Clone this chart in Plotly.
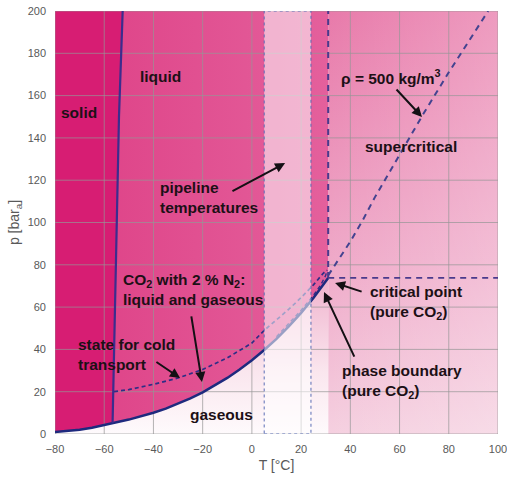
import plotly.graph_objects as go

# ---------------- data ----------------
T_TICKS = [-80, -60, -40, -20, 0, 20, 40, 60, 80, 100]
P_TICKS = [0, 20, 40, 60, 80, 100, 120, 140, 160, 180, 200]

# sublimation curve (pure CO2)
sub_T = [-80, -75, -70, -65, -60, -56.6]
sub_p = [0.9, 1.4, 2.05, 2.95, 4.1, 5.18]

# melting line (pure CO2)
melt_T = [-56.6, -55.6, -55.0, -54.0, -52.5]
melt_p = [5.18, 60, 100, 150, 200]

# vapour pressure curve / phase boundary (pure CO2)
vap_T = [-56.6, -55, -50, -45, -40, -35, -30, -25, -20, -15, -10, -5, 0, 5, 10, 15, 20, 25, 30, 31]
vap_p = [5.18, 5.54, 6.82, 8.32, 10.05, 12.02, 14.28, 16.83, 19.7, 22.9, 26.5, 30.5, 34.85, 39.7,
         45.0, 50.9, 57.3, 64.3, 72.1, 73.8]

# CO2 with 2 % N2: bubble line (state for cold transport) and dew line
bub_T = [-56, -50, -40, -30, -20, -10, 0, 5, 10, 15, 20, 25, 29, 30.5]
bub_p = [20, 21, 23.5, 26.5, 30.5, 36, 43, 49, 54, 59, 64.5, 70.5, 76, 77.5]
dew_T = [10, 15, 20, 25, 28, 30, 30.5]
dew_p = [46, 52, 58.5, 65.5, 70.5, 75, 77.5]

# isochore rho = 500 kg/m3
iso_T = [31, 35, 40, 45, 50, 60, 70, 80, 90, 96]
iso_p = [75, 82, 91, 101, 112, 132, 152, 171, 189, 200]

T_CRIT = 31
P_CRIT = 73.8
T_MIN, T_MAX = -80, 100
P_MAX = 200
PIPE_T = [5, 24]

fig = go.Figure()

# ---------------- region fills ----------------
# supercritical / right region
fig.add_trace(go.Scatter(
    x=[T_CRIT, T_MAX, T_MAX, T_CRIT, T_CRIT], y=[0, 0, P_MAX, P_MAX, 0],
    mode="none", fill="toself",
    fillgradient=dict(type="vertical", colorscale=[[0, "#f5d0e0"], [0.4, "#efaac9"], [1, "#e87aaa"]]),
    hoverinfo="skip"))
fig.add_trace(go.Scatter(
    x=[T_CRIT, T_MAX, T_MAX, T_CRIT, T_CRIT], y=[0, 0, P_MAX, P_MAX, 0],
    mode="none", fill="toself",
    fillgradient=dict(type="horizontal",
                      colorscale=[[0, "rgba(255,255,255,0)"], [1, "rgba(255,255,255,0.25)"]]),
    hoverinfo="skip"))

# gaseous region
gas_x = sub_T + vap_T[1:] + [T_CRIT, T_MIN, T_MIN]
gas_y = sub_p + vap_p[1:] + [0, 0, sub_p[0]]
fig.add_trace(go.Scatter(
    x=gas_x, y=gas_y, mode="none", fill="toself",
    fillgradient=dict(type="vertical", colorscale=[[0, "#fefafc"], [0.4, "#fae6ee"], [1, "#f0b2cd"]]),
    hoverinfo="skip"))

# liquid region
liq_x = melt_T + [T_CRIT] + vap_T[::-1]
liq_y = melt_p + [P_MAX] + vap_p[::-1]
fig.add_trace(go.Scatter(
    x=liq_x, y=liq_y, mode="none", fill="toself",
    fillgradient=dict(type="horizontal", colorscale=[[0, "#df468a"], [1, "#e4609c"]]),
    hoverinfo="skip"))

# solid region
sol_x = sub_T + melt_T[1:] + [T_MIN, T_MIN]
sol_y = sub_p + melt_p[1:] + [P_MAX, sub_p[0]]
fig.add_trace(go.Scatter(
    x=sol_x, y=sol_y, mode="none", fill="toself", fillcolor="#d71d73",
    hoverinfo="skip"))

# ---------------- grid lines (drawn above fills) ----------------
gx, gy = [], []
for t in T_TICKS:
    gx += [t, t, None]
    gy += [0, P_MAX, None]
for p in P_TICKS:
    gx += [T_MIN, T_MAX, None]
    gy += [p, p, None]
fig.add_trace(go.Scatter(x=gx, y=gy, mode="lines",
                         line=dict(color="rgba(150,150,150,0.7)", width=1),
                         hoverinfo="skip"))

# ---------------- curves ----------------
fig.add_trace(go.Scatter(x=sub_T + vap_T[1:], y=sub_p + vap_p[1:], mode="lines",
                         line=dict(color="#1e2a7e", width=2.5), hoverinfo="skip"))
fig.add_trace(go.Scatter(x=melt_T, y=melt_p, mode="lines",
                         line=dict(color="#3b2d8e", width=2.2), hoverinfo="skip"))
fig.add_trace(go.Scatter(x=bub_T, y=bub_p, mode="lines",
                         line=dict(color="#2e2e86", width=1.7, dash="4px,3px"), hoverinfo="skip"))
fig.add_trace(go.Scatter(x=dew_T, y=dew_p, mode="lines",
                         line=dict(color="#2e2e86", width=1.4, dash="4px,3px"), hoverinfo="skip"))
fig.add_trace(go.Scatter(x=iso_T, y=iso_p, mode="lines",
                         line=dict(color="#434390", width=2, dash="6px,5px"), hoverinfo="skip"))
fig.add_trace(go.Scatter(x=[T_CRIT, T_CRIT], y=[P_CRIT, P_MAX], mode="lines",
                         line=dict(color="#4a3a8c", width=2, dash="6px,5px"), hoverinfo="skip"))
fig.add_trace(go.Scatter(x=[T_CRIT, T_MAX], y=[P_CRIT, P_CRIT], mode="lines",
                         line=dict(color="#4a3a8c", width=1.8, dash="6px,5px"), hoverinfo="skip"))

# pipeline temperature band (semi-transparent overlay)
fig.add_shape(type="rect", xref="x", yref="y", x0=PIPE_T[0], x1=PIPE_T[1], y0=0, y1=P_MAX,
              fillcolor="rgba(255,255,255,0.55)", line=dict(color="#5a6db5", width=1, dash="dot"),
              layer="above")

# ---------------- annotations ----------------
TXT = dict(family="Liberation Sans, Arial, sans-serif", size=15.5, color="#1c1016")
labels = [
    ("<b>solid</b>", -70.2, 152.2, "center"),
    ("<b>liquid</b>", -37.3, 168.8, "center"),
    ("<b>ρ = 500 kg/m<sup>3</sup></b>", 56.5, 168.8, "center"),
    ("<b>supercritical</b>", 64.7, 135.7, "center"),
    ("<b>pipeline<br>temperatures</b>", -38.3, 111.6, "left"),
    ("<b>CO<sub>2</sub> with 2 % N<sub>2</sub>:<br>liquid and gaseous</b>", -53.0, 68.1, "left"),
    ("<b>state for cold<br>transport</b>", -71.3, 37.4, "left"),
    ("<b>gaseous</b>", -12.5, 9.0, "center"),
    ("<b>critical point<br>(pure CO<sub>2</sub>)</b>", 47.0, 62.4, "left"),
    ("<b>phase boundary<br>(pure CO<sub>2</sub>)</b>", 36.0, 24.6, "left"),
]
for text, x, y, anc in labels:
    fig.add_annotation(x=x, y=y, xref="x", yref="y", text=text, showarrow=False,
                       xanchor=anc, yanchor="middle", align=anc, font=TXT)

arrows = [  # (tail T, tail p, head T, head p)
    (58.2, 163.6, 69.1, 149.9),
    (-8.5, 114.4, 13.5, 128.1),
    (-24.7, 56.3, -20.3, 24.6),
    (-39.4, 34.5, -29.2, 26.5),
    (45.2, 67.1, 33.8, 71.4),
    (41.9, 35.9, 29.3, 67.1),
]
for tx, ty, hx, hy in arrows:
    fig.add_annotation(x=hx, y=hy, ax=tx, ay=ty, xref="x", yref="y", axref="x", ayref="y",
                       text="", showarrow=True, arrowhead=2, arrowsize=1, arrowwidth=2,
                       arrowcolor="#141014")

AXFONT = dict(family="Liberation Sans, Arial, sans-serif", size=11, color="#595959")
fig.update_layout(
    width=507, height=477,
    margin=dict(l=55, r=9, t=11, b=43, autoexpand=False),
    paper_bgcolor="white", plot_bgcolor="white",
    showlegend=False,
    xaxis=dict(range=[T_MIN, T_MAX], tickvals=T_TICKS, showgrid=False, zeroline=False,
               showline=False, ticks="", ticklabelstandoff=7, automargin=False,
               ticklabeloverflow="allow", tickfont=AXFONT,
               title=dict(text="T [°C]", standoff=6,
                          font=dict(family="Liberation Sans, Arial, sans-serif", size=14, color="#595959"))),
    yaxis=dict(range=[0, P_MAX], tickvals=P_TICKS, showgrid=False, zeroline=False,
               showline=False, ticks="", ticklabelstandoff=8, automargin=False,
               ticklabeloverflow="allow", tickfont=AXFONT,
               title=dict(text="p [bar<sub>a</sub>]", standoff=4,
                          font=dict(family="Liberation Sans, Arial, sans-serif", size=14, color="#595959"))),
)

fig.write_html("out.html", config={"displayModeBar": False},
               post_script="document.body.style.margin='0';document.body.style.overflow='hidden';")
